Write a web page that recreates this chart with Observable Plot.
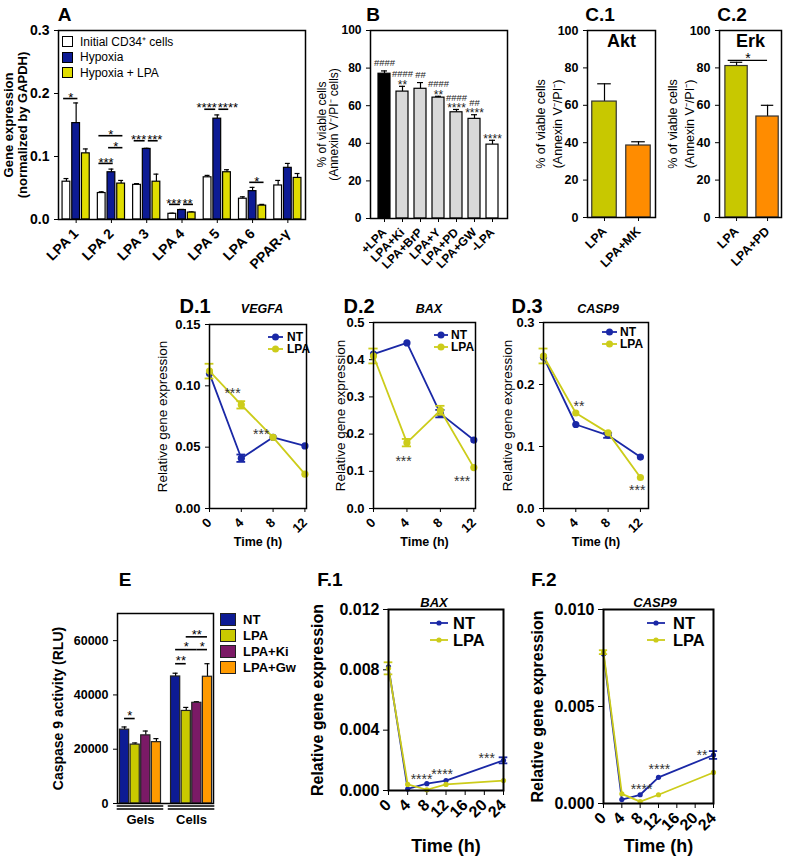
<!DOCTYPE html>
<html><head><meta charset="utf-8">
<script src="https://cdn.jsdelivr.net/npm/d3@7"></script>
<script src="https://cdn.jsdelivr.net/npm/@observablehq/plot@0.6"></script>
<style>
body{margin:0;background:#fff;}
#root{position:relative;width:787px;height:862px;overflow:hidden;font-family:"Liberation Sans",Arial,Helvetica,sans-serif;color:#000;}
.lbl{position:absolute;white-space:nowrap;line-height:1;}
.c{transform:translate(-50%,-50%);}
.l{transform:translate(0,-50%);}
</style></head><body><div id="root"></div><script>
// ---------- DATA ----------
// Panel A
const aGenes = ["LPA 1","LPA 2","LPA 3","LPA 4","LPA 5","LPA 6","PPAR-γ"];
const aSeries = ["Initial CD34⁺ cells","Hypoxia","Hypoxia + LPA"];
const aInitial      = [0.060,0.042,0.055,0.009,0.067,0.033,0.054];
const aInitialErr   = [0.005,0.002,0.002,0.001,0.003,0.003,0.008];
const aHypoxia      = [0.153,0.075,0.112,0.015,0.160,0.045,0.082];
const aHypoxiaErr   = [0.032,0.005,0.001,0.001,0.006,0.006,0.007];
const aHypoxiaLPA   = [0.105,0.057,0.060,0.011,0.075,0.022,0.066];
const aHypoxiaLPAErr= [0.007,0.005,0.012,0.001,0.004,0.002,0.007];
const aSig = [
  {gene:"LPA 1",from:0,to:1,y:0.192,label:"*"},
  {gene:"LPA 2",from:0,to:2,y:0.133,label:"*"},
  {gene:"LPA 2",from:1,to:2,y:0.114,label:"*"},
  {gene:"LPA 2",from:0,to:1,y:0.089,label:"***"},
  {gene:"LPA 3",from:0,to:1,y:0.125,label:"***"},
  {gene:"LPA 3",from:1,to:2,y:0.125,label:"***"},
  {gene:"LPA 4",from:0,to:1,y:0.024,label:"***"},
  {gene:"LPA 4",from:1,to:2,y:0.024,label:"**"},
  {gene:"LPA 5",from:0,to:1,y:0.175,label:"****"},
  {gene:"LPA 5",from:1,to:2,y:0.175,label:"****"},
  {gene:"LPA 6",from:1,to:2,y:0.059,label:"*"}
];
// Panel B
const bTreat  = ["+LPA","LPA+Ki","LPA+BrP","LPA+Y","LPA+PD","LPA+GW","-LPA"];
const bViable = [77,67.5,69,64.3,56.5,53,39.3];
const bErr    = [1.5,2.8,3.3,0.7,1.5,2.2,2.3];
const bHash   = ["####","####","##","####","####","##",""];
const bStars  = ["","**","","**","****","****","****"];
// Panel C
const c1Treat = ["LPA","LPA+MK"]; const c1Viable = [62,38.5]; const c1Err = [9.5,2];
const c2Treat = ["LPA","LPA+PD"]; const c2Viable = [81,54];  const c2Err = [2,6];
// Panel D
const dTime = [0,4,8,12];
const dVegfaNT = [0.110,0.041,0.058,0.051], dVegfaNTErr = [0,0.003,0,0];
const dVegfaLPA = [0.112,0.0845,0.058,0.028], dVegfaLPAErr = [0.006,0.003,0,0];
const dVegfaStars = [{t:2.9,v:0.096,label:"***"},{t:6.5,v:0.062,label:"***"}];
const dBaxNT = [0.415,0.445,0.255,0.184], dBaxNTErr = [0,0,0.01,0];
const dBaxLPA = [0.41,0.177,0.264,0.110], dBaxLPAErr = [0.02,0.01,0.012,0];
const dBaxStars = [{t:3.6,v:0.134,label:"***"},{t:10.6,v:0.079,label:"***"}];
const dCasp9NT = [0.244,0.1355,0.118,0.083], dCasp9NTErr = [0,0,0.004,0];
const dCasp9LPA = [0.246,0.154,0.122,0.050], dCasp9LPAErr = [0.012,0,0,0];
const dCasp9Stars = [{t:4.4,v:0.169,label:"**"},{t:11.6,v:0.033,label:"***"}];
// Panel E
const eGroups = ["Gels","Cells"];
const eSeries = ["NT","LPA","LPA+Ki","LPA+Gw"];
const eNT  = [27200,46800], eNTErr  = [1000,1200];
const eLPA = [21700,34100], eLPAErr = [600,1300];
const eKi  = [25100,37100], eKiErr  = [1600,400];
const eGw  = [22600,46700], eGwErr  = [1300,4800];
const eSig = [
  {group:"Gels",from:0,to:1,y:31300,label:"*"},
  {group:"Cells",from:0,to:1,y:51500,label:"**"},
  {group:"Cells",from:0,to:2,y:56700,label:"*"},
  {group:"Cells",from:2,to:3,y:56700,label:"*"},
  {group:"Cells",from:1,to:3,y:61400,label:"**"}
];
// Panel F
const fTime = [0,4,8,12,24];
const fBaxNT = [0.0082,0.0001,0.00045,0.00066,0.0020], fBaxNTErr = [0,0,0,0,0.0002];
const fBaxLPA = [0.0081,0.0004,0.00005,0.0004,0.00066], fBaxLPAErr = [0.0004,0,0,0,0];
const fBaxStars = [{t:6.9,v:0.00088,label:"****"},{t:11.2,v:0.0012,label:"****"},{t:20.5,v:0.0023,label:"***"}];
const fCasp9NT = [0.0077,0.0002,0.00045,0.00135,0.0025], fCasp9NTErr = [0,0,0,0,0.0002];
const fCasp9LPA = [0.0078,0.0005,0.0001,0.00045,0.0016], fCasp9LPAErr = [0.0001,0,0,0,0];
const fCasp9Stars = [{t:8.3,v:0.00084,label:"****"},{t:12.2,v:0.00187,label:"****"},{t:21.5,v:0.0026,label:"**"}];

// ---------- STYLE ----------
const FONT = '"Liberation Sans", Arial, Helvetica, sans-serif';
const BLUE = "#0d1b94";
const NT_C = "#1a28a6", LPA_C = "#cccc1a";
const aColors = ["#ffffff", BLUE, "#e0dd00"];
const bColors = ["#000000","#d9d9d9","#d9d9d9","#d9d9d9","#d9d9d9","#d9d9d9","#ffffff"];
const cColors = ["#c8c800","#ff8c00"];
const eColors = [BLUE,"#c9c900","#7b1a66","#ff9a00"];
const root = document.getElementById("root");
const svgStyle = (fs) => ({fontFamily: FONT, fontSize: fs + "px", fontWeight: "bold", color: "#000", background: "transparent", overflow: "visible"});
function put(node, left, top) { node.style.position = "absolute"; node.style.left = left + "px"; node.style.top = top + "px"; root.appendChild(node); return node; }
function label(text, x, y, css, cls) { const d = document.createElement("div"); d.className = "lbl " + (cls || "c"); d.innerHTML = text; Object.assign(d.style, css || {}); d.style.left = x + "px"; d.style.top = y + "px"; root.appendChild(d); return d; }
const yLabel = (text, dx, fontSize, fontWeight, lineHeight) =>
  Plot.text([text], {frameAnchor: "left", textAnchor: "middle", lineAnchor: "middle", rotate: -90, dx, fontSize, fontWeight, lineHeight: lineHeight || 1.1});

// ---------- PANEL A ----------
{
  const vals = [aInitial, aHypoxia, aHypoxiaLPA], errs = [aInitialErr, aHypoxiaErr, aHypoxiaLPAErr];
  const off = 0.275, half = 0.11, gap = 0.045;
  const rows = aGenes.flatMap((g, i) => aSeries.map((s, k) => ({i, k, s, v: vals[k][i], e: errs[k][i]})));
  const cx = d => d.i + (d.k - 1) * off;
  const sig = aSig.map((d, j) => {
    const i = aGenes.indexOf(d.gene);
    const paired = aSig.some((o, m) => m !== j && o.gene === d.gene && o.y === d.y);
    const side = paired ? (d.from === 0 ? -1 : 1) : 0;
    const a = i + (d.from - 1) * off, b = i + (d.to - 1) * off;
    return {x1: side === 1 ? a + gap : a - 0.08, x2: side === -1 ? b - gap : b + 0.05, mid: side === -1 ? b : a, y: d.y, label: d.label, side};
  });
  const svg = Plot.plot({
    width: 320, height: 300, marginLeft: 58, marginRight: 15, marginTop: 30, marginBottom: 81,
    style: svgStyle(14),
    x: {domain: [-0.5, 6.5], ticks: d3.range(aGenes.length), tickFormat: i => aGenes[i], tickRotate: -45, tickSize: 4, label: null},
    y: {domain: [0, 0.3], ticks: [0, 0.1, 0.2, 0.3], tickFormat: d3.format(".1f"), tickSize: 4, label: null},
    color: {domain: aSeries, range: aColors},
    marks: [
      Plot.ruleX(rows, {x: cx, y1: "v", y2: d => d.v + d.e, strokeWidth: 1.2}),
      Plot.ruleY(rows, {y: d => d.v + d.e, x1: d => cx(d) - 0.07, x2: d => cx(d) + 0.07, strokeWidth: 1.2}),
      Plot.rectY(rows, {x1: d => cx(d) - half, x2: d => cx(d) + half, y: "v", fill: "s", stroke: "black", strokeWidth: 1.2}),
      Plot.ruleY(sig, {y: "y", x1: "x1", x2: "x2", strokeWidth: 1.6}),
      Plot.text(sig, {filter: d => d.side === 0, x: d => (d.x1 + d.x2) / 2, y: "y", text: "label", dy: -1, fontSize: 13, fontWeight: "normal"}),
      Plot.text(sig, {filter: d => d.side === -1, x: "mid", y: "y", text: "label", textAnchor: "end", dx: -0.5, dy: -1, fontSize: 13, fontWeight: "normal"}),
      Plot.text(sig, {filter: d => d.side === 1, x: "mid", y: "y", text: "label", textAnchor: "start", dx: 0.5, dy: -1, fontSize: 13, fontWeight: "normal"}),
      yLabel("Gene expression\n(normalized by GAPDH)", -43, 13, "bold", 1.08),
      Plot.frame({strokeWidth: 1.5})
    ]
  });
  put(svg, 0, 0);
  label("A", 64.5, 14, {fontSize: "19px", fontWeight: "bold"});
  aSeries.forEach((s, k) => {
    const sq = document.createElement("div");
    Object.assign(sq.style, {position: "absolute", left: "62px", top: (36 + k * 15.5) + "px", width: "9px", height: "9px", background: aColors[k], border: "1.2px solid #000"});
    root.appendChild(sq);
    label(s, 80, 41.5 + k * 15.5, {fontSize: "12px"}, "l");
  });
}

// ---------- PANEL B ----------
{
  const rows = bTreat.map((t, i) => ({t, v: bViable[i], e: bErr[i], hash: bHash[i], stars: bStars[i]}));
  const svg = Plot.plot({
    width: 215, height: 300, marginLeft: 70, marginRight: 8, marginTop: 30, marginBottom: 82,
    style: svgStyle(12),
    x: {domain: bTreat, padding: 0.33, tickRotate: -45, tickSize: 4, label: null},
    y: {domain: [0, 100], ticks: [0, 20, 40, 60, 80, 100], tickSize: 4, label: null},
    color: {domain: bTreat, range: bColors},
    marks: [
      Plot.ruleX(rows, {x: "t", y1: "v", y2: d => d.v + d.e, strokeWidth: 1.2}),
      Plot.tickY(rows, {x: "t", y: d => d.v + d.e, insetLeft: 3, insetRight: 3, strokeWidth: 1.2}),
      Plot.barY(rows, {x: "t", y: "v", fill: "t", stroke: "black", strokeWidth: 1.2}),
      Plot.text(rows, {x: "t", y: d => d.v + d.e, text: "stars", dy: -1.5, fontSize: 12, fontWeight: "normal", fill: "#222"}),
      Plot.text(rows, {filter: d => d.stars, x: "t", y: d => d.v + d.e, text: "hash", dy: -12, fontSize: 9.5, fontWeight: "normal", fill: "#222"}),
      Plot.text(rows, {filter: d => !d.stars, x: "t", y: d => d.v + d.e, text: "hash", dy: -7.5, fontSize: 9.5, fontWeight: "normal", fill: "#222"}),
      yLabel("% of viable cells\n(Annexin V⁻/PI⁻ cells)", -42, 12, "normal", 1.0),
      Plot.frame({strokeWidth: 1.5})
    ]
  });
  put(svg, 300, 0);
  label("B", 373, 14, {fontSize: "19px", fontWeight: "bold"});
}

// ---------- PANEL C ----------
function cPanel(treat, viable, err, left, width, ml, mr, xDomain, inner, sig) {
  const rows = treat.map((t, i) => ({i, t, v: viable[i], e: err[i]}));
  const marks = [
    Plot.ruleX(rows, {x: "i", y1: "v", y2: d => d.v + d.e, strokeWidth: 1.2}),
    Plot.ruleY(rows, {y: d => d.v + d.e, x1: d => d.i - 0.2, x2: d => d.i + 0.2, strokeWidth: 1.2}),
    Plot.rectY(rows, {x1: d => d.i - 0.36, x2: d => d.i + 0.36, y: "v", fill: "t", stroke: "#333", strokeWidth: 1.2}),
    Plot.text([inner], {frameAnchor: "top", lineAnchor: "middle", dy: 11, fontSize: 18}),
    yLabel("% of viable cells\n(Annexin V⁻/PI⁻)", -39.5, 12.5, "normal", 1.35),
    Plot.frame({strokeWidth: 1.5})
  ];
  if (sig) marks.push(
    Plot.ruleY(sig, {y: "y", x1: "x1", x2: "x2", strokeWidth: 1.4}),
    Plot.text(sig, {x: d => (d.x1 + d.x2) / 2, y: "y", text: "label", dy: -1.5, fontSize: 14, fontWeight: "normal"}));
  const svg = Plot.plot({
    width, height: 300, marginLeft: ml, marginRight: mr, marginTop: 30, marginBottom: 83,
    style: svgStyle(12.5),
    x: {domain: xDomain, ticks: d3.range(treat.length), tickFormat: i => treat[i], tickRotate: -45, tickSize: 4, label: null},
    y: {domain: [0, 100], ticks: [0, 20, 40, 60, 80, 100], tickSize: 4, label: null},
    color: {domain: treat, range: cColors},
    marks
  });
  put(svg, left, 0);
}
cPanel(c1Treat, c1Viable, c1Err, 520, 140, 67, 5, [-0.5, 1.5], "Akt", null);
cPanel(c2Treat, c2Viable, c2Err, 660, 127, 59, 6, [-0.55, 1.45], "Erk", [{x1: -0.27, x2: 1.0, y: 84, label: "*"}]);
label("C.1", 600, 14, {fontSize: "19px", fontWeight: "bold"});
label("C.2", 732, 14, {fontSize: "19px", fontWeight: "bold"});

// ---------- TIME COURSE PANELS (D, F) ----------
function timePanel(o) {
  const mk = (vals, errs) => o.time.map((t, i) => ({t, v: vals[i], e: errs[i]}));
  const series = (data, color) => {
    const ed = data.filter(d => d.e > 0);
    return [
      Plot.line(data, {x: "t", y: "v", stroke: color, strokeWidth: o.lw}),
      Plot.ruleX(ed, {x: "t", y1: d => d.v - d.e, y2: d => d.v + d.e, stroke: color, strokeWidth: o.lw}),
      Plot.ruleY(ed, {y: d => d.v + d.e, x1: d => d.t - o.cap, x2: d => d.t + o.cap, stroke: color, strokeWidth: o.lw}),
      Plot.ruleY(ed, {y: d => d.v - d.e, x1: d => d.t - o.cap, x2: d => d.t + o.cap, stroke: color, strokeWidth: o.lw}),
      Plot.dot(data, {x: "t", y: "v", fill: color, r: o.r})
    ];
  };
  const svg = Plot.plot({
    width: o.width, height: o.height, marginLeft: o.ml, marginRight: o.mr, marginTop: o.mt, marginBottom: o.mb,
    style: svgStyle(o.tickFont),
    x: {domain: o.xDomain, ticks: o.xTicks, tickFormat: d => String(d), tickRotate: -45, tickSize: o.tickSize, label: null},
    y: {domain: o.yDomain, ticks: o.yTicks, tickFormat: d3.format(o.yFormat), tickSize: o.tickSize, label: null},
    marks: [
      ...series(mk(o.nt, o.ntErr), NT_C),
      ...series(mk(o.lpa, o.lpaErr), LPA_C),
      Plot.text(o.stars, {x: "t", y: "v", text: "label", dy: 2.5, fontSize: 14, fontWeight: "normal", fill: "#333"}),
      yLabel("Relative gene expression", o.yDx, o.yFont, o.yWeight),
      Plot.text(["Time (h)"], {frameAnchor: "bottom", lineAnchor: "middle", dy: o.timeDy, fontSize: o.timeFont}),
      Plot.frame({strokeWidth: o.frameW})
    ]
  });
  put(svg, o.left, o.top);
  [["NT", NT_C], ["LPA", LPA_C]].forEach(([name, col], k) => {
    const y = o.legY + k * o.legGap;
    const w = o.legX2 - o.legX1;
    const d = document.createElement("div");
    d.innerHTML = `<svg width="${w}" height="10" style="display:block"><line x1="0" x2="${w}" y1="5" y2="5" stroke="${col}" stroke-width="${o.lw}"/><circle cx="${w / 2}" cy="5" r="${o.legR}" fill="${col}"/></svg>`;
    Object.assign(d.style, {position: "absolute", left: o.legX1 + "px", top: (y - 5) + "px"});
    root.appendChild(d);
    label(name, o.legTextX, y, {fontSize: o.legFont + "px", fontWeight: "bold"}, "l");
  });
  label(o.panel, o.panelX, o.panelY, {fontSize: o.panelFont + "px", fontWeight: "bold"});
  label(o.gene, o.geneX, o.geneY, {fontSize: o.geneFont + "px", fontWeight: "bold", fontStyle: "italic"});
}
const dCommon = {time: dTime, top: 295, width: 165, height: 260, mb: 47, xTicks: [0, 4, 8, 12], tickFont: 13, tickSize: 4,
  lw: 1.8, cap: 0.55, r: 3.6, yFont: 13.5, yWeight: "normal", timeDy: 33, timeFont: 12.5, frameW: 1.5,
  legGap: 12, legR: 3.5, legFont: 12, panelFont: 20, panelY: 305.5, geneFont: 12.5, geneY: 309};
timePanel({...dCommon, left: 150, ml: 59, mr: 9, mt: 29, xDomain: [0, 12.2], yDomain: [0, 0.15], yTicks: [0, 0.05, 0.1, 0.15], yFormat: ".2f",
  nt: dVegfaNT, ntErr: dVegfaNTErr, lpa: dVegfaLPA, lpaErr: dVegfaLPAErr, stars: dVegfaStars, yDx: -47,
  legX1: 268, legX2: 283, legTextX: 287, legY: 337, panel: "D.1", panelX: 195, gene: "VEGFA", geneX: 262});
timePanel({...dCommon, left: 318, ml: 55, mr: 8, mt: 27, xDomain: [0, 12.2], yDomain: [0, 0.5], yTicks: [0, 0.1, 0.2, 0.3, 0.4, 0.5], yFormat: ".1f",
  nt: dBaxNT, ntErr: dBaxNTErr, lpa: dBaxLPA, lpaErr: dBaxLPAErr, stars: dBaxStars, yDx: -33,
  legX1: 434, legX2: 448, legTextX: 451, legY: 335, panel: "D.2", panelX: 359, gene: "BAX", geneX: 429});
timePanel({...dCommon, left: 495, ml: 48, mr: 12, mt: 27, xDomain: [0, 13], yDomain: [0, 0.3], yTicks: [0, 0.1, 0.2, 0.3], yFormat: ".1f",
  nt: dCasp9NT, ntErr: dCasp9NTErr, lpa: dCasp9LPA, lpaErr: dCasp9LPAErr, stars: dCasp9Stars, yDx: -36,
  legX1: 602, legX2: 617, legTextX: 620, legY: 332, panel: "D.3", panelX: 527, gene: "CASP9", geneX: 598});

const fCommon = {time: fTime, top: 560, height: 300, mt: 49, xDomain: [0, 24], xTicks: [0, 4, 8, 12, 16, 20, 24], tickFont: 16, tickSize: 5,
  lw: 1.8, cap: 0.9, r: 2.6, yFont: 16, yWeight: "bold", timeFont: 18, frameW: 2,
  legGap: 17, legR: 2.6, legFont: 16.5, panelFont: 19, panelY: 579, geneFont: 13, geneY: 602, legY: 622.5};
timePanel({...fCommon, left: 290, width: 230, ml: 98, mr: 17, mb: 70, yDomain: [0, 0.012], yTicks: [0, 0.004, 0.008, 0.012], yFormat: ".3f",
  nt: fBaxNT, ntErr: fBaxNTErr, lpa: fBaxLPA, lpaErr: fBaxLPAErr, stars: fBaxStars, yDx: -71, timeDy: 56,
  legX1: 430, legX2: 448, legTextX: 453, panel: "F.1", panelX: 330, gene: "BAX", geneX: 434});
timePanel({...fCommon, left: 520, width: 200, ml: 83, mr: 7, mb: 57, yDomain: [0, 0.010], yTicks: [0, 0.005, 0.010], yFormat: ".3f",
  nt: fCasp9NT, ntErr: fCasp9NTErr, lpa: fCasp9LPA, lpaErr: fCasp9LPAErr, stars: fCasp9Stars, yDx: -66, timeDy: 43,
  legX1: 647, legX2: 665, legTextX: 673, panel: "F.2", panelX: 544, gene: "CASP9", geneX: 655});

// ---------- PANEL E ----------
{
  const vals = [eNT, eLPA, eKi, eGw], errs = [eNTErr, eLPAErr, eKiErr, eGwErr];
  const off = 0.208, half = 0.09;
  const rows = eGroups.flatMap((g, i) => eSeries.map((s, k) => ({i, k, s, v: vals[k][i], e: errs[k][i]})));
  const cx = d => d.i + (d.k - 1.5) * off;
  const sig = eSig.map(d => { const i = eGroups.indexOf(d.group); return {x1: i + (d.from - 1.5) * off, x2: i + (d.to - 1.5) * off, y: d.y, label: d.label}; });
  const groups = eGroups.map((g, i) => ({g, x1: i - 2 * off - 0.04, x2: i + 2 * off + 0.04, c: i}));
  const svg = Plot.plot({
    width: 230, height: 300, marginLeft: 117, marginRight: 17, marginTop: 53, marginBottom: 57,
    style: svgStyle(12.5),
    x: {domain: [-0.45, 1.43], axis: null},
    y: {domain: [0, 70000], ticks: [0, 20000, 40000, 60000], tickFormat: d => String(d), tickSize: 4, label: null},
    color: {domain: eSeries, range: eColors},
    marks: [
      Plot.ruleX(rows, {x: cx, y1: "v", y2: d => d.v + d.e, strokeWidth: 1.2}),
      Plot.ruleY(rows, {y: d => d.v + d.e, x1: d => cx(d) - 0.05, x2: d => cx(d) + 0.05, strokeWidth: 1.2}),
      Plot.rectY(rows, {x1: d => cx(d) - half, x2: d => cx(d) + half, y: "v", fill: "s", stroke: "#222", strokeWidth: 1.2}),
      Plot.ruleY(sig, {y: "y", x1: "x1", x2: "x2", strokeWidth: 1.6}),
      Plot.text(sig, {x: d => (d.x1 + d.x2) / 2, y: "y", text: "label", dy: -2.5, fontSize: 13, fontWeight: "normal"}),
      Plot.ruleY(groups, {y: 0, x1: "x1", x2: "x2", dy: 2.5, strokeWidth: 1.6}),
      Plot.ruleY(groups, {y: 0, x1: "x1", x2: "x2", dy: 5.5, strokeWidth: 1.6}),
      Plot.text(groups, {x: "c", y: 0, text: "g", dy: 16, fontSize: 13}),
      yLabel("Caspase 9 activity (RLU)", -59, 14, "bold"),
      Plot.frame({strokeWidth: 1.5})
    ]
  });
  put(svg, 0, 560);
  label("E", 125, 579, {fontSize: "19px", fontWeight: "bold"});
  const ey = [619, 635, 651, 667];
  eSeries.forEach((s, k) => {
    const sq = document.createElement("div");
    Object.assign(sq.style, {position: "absolute", left: "220px", top: (ey[k] - 6.5) + "px", width: "14px", height: "11px", background: eColors[k], border: "1.2px solid #222"});
    root.appendChild(sq);
    label(s, 243, ey[k], {fontSize: "13px", fontWeight: "bold"}, "l");
  });
}
</script></body></html>
